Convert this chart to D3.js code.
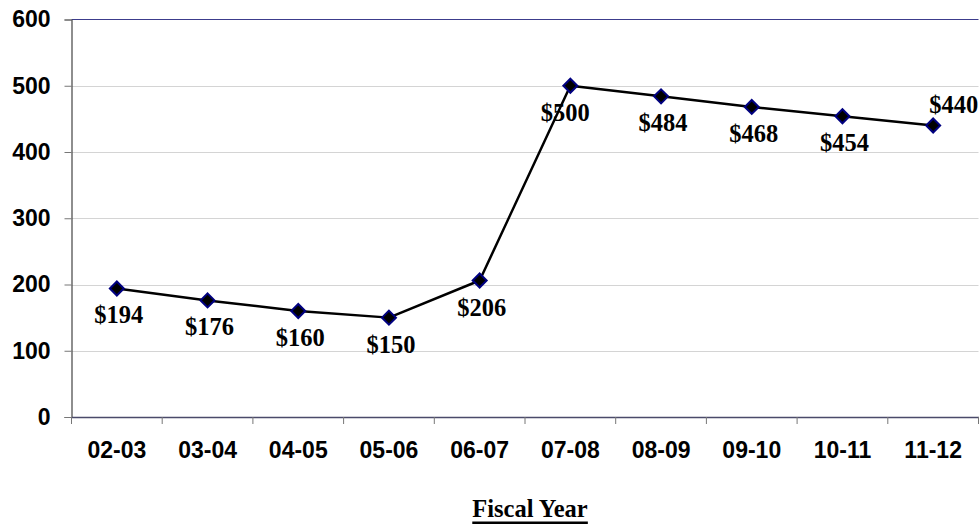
<!DOCTYPE html>
<html>
<head>
<meta charset="utf-8">
<script src="https://cdn.jsdelivr.net/npm/d3@7"></script>
<style>
  html, body { margin: 0; padding: 0; background: #fff; }
  svg { display: block; }
</style>
</head>
<body>
<svg id="chart" width="979" height="525"></svg>
<script>
// Fiscal years and cost per year (dollars)
const years = ["02-03", "03-04", "04-05", "05-06", "06-07", "07-08", "08-09", "09-10", "10-11", "11-12"];
const values = [194, 176, 160, 150, 206, 500, 484, 468, 454, 440];
const yTicks = [0, 100, 200, 300, 400, 500, 600];
const axisTitle = "Fiscal Year";

const svg = d3.select("#chart");
const plot = { left: 71.5, right: 978.5, top: 19.5, bottom: 417 };

const x = d3.scaleBand().domain(years).range([plot.left, plot.right]).paddingInner(0).paddingOuter(0);
const y = d3.scaleLinear().domain([0, 600]).range([plot.bottom, plot.top]);

const sans = "'Liberation Sans', Arial, sans-serif";
const serif = "'Liberation Serif', 'Times New Roman', serif";

// horizontal gridlines
svg.append("g")
  .selectAll("line")
  .data(yTicks.filter(d => d > 0 && d < 600))
  .join("line")
  .attr("x1", plot.left).attr("x2", plot.right)
  .attr("y1", d => Math.round(y(d)) + 0.5).attr("y2", d => Math.round(y(d)) + 0.5)
  .attr("stroke", "#d4d4d4").attr("stroke-width", 1);

// top border of the plot area
svg.append("line")
  .attr("x1", plot.left).attr("x2", plot.right)
  .attr("y1", y(600)).attr("y2", y(600))
  .attr("stroke", "#3c3c8c").attr("stroke-width", 1.2);

// y axis
const yAxis = d3.axisLeft(y).tickValues(yTicks).tickSize(7).tickPadding(14).tickFormat(d3.format("d"));
const gy = svg.append("g").attr("transform", `translate(${plot.left},0)`).call(yAxis);
gy.select(".domain").attr("stroke", "#444").attr("stroke-width", 1.2);
gy.selectAll(".tick line").attr("stroke", "#777");
gy.selectAll(".tick text")
  .attr("font-family", sans).attr("font-weight", "bold").attr("font-size", 23).attr("fill", "#000");

// x axis: ticks sit on the category boundaries
const xAxis = d3.axisBottom(x).tickSize(0).tickPadding(25);
const gx = svg.append("g").attr("transform", `translate(0,${plot.bottom})`).call(xAxis);
gx.select(".domain").attr("stroke", "#4a4a6a").attr("stroke-width", 1.4);
gx.selectAll(".tick text")
  .attr("font-family", sans).attr("font-weight", "bold").attr("font-size", 23).attr("fill", "#000");
gx.append("g")
  .selectAll("line")
  .data(years.concat(["end"]))
  .join("line")
  .attr("x1", (d, i) => plot.left + i * x.bandwidth()).attr("x2", (d, i) => plot.left + i * x.bandwidth())
  .attr("y1", 0).attr("y2", 7)
  .attr("stroke", "#777");

// axis title, underlined
const title = svg.append("text")
  .attr("x", 530).attr("y", 517)
  .attr("text-anchor", "middle")
  .attr("font-family", serif).attr("font-weight", "bold").attr("font-size", 24.5)
  .attr("fill", "#000")
  .text(axisTitle);
const tb = title.node().getBBox();
svg.append("rect")
  .attr("x", tb.x).attr("y", 521.5).attr("width", tb.width).attr("height", 2.5)
  .attr("fill", "#000");

// series line
const cx = d => x(d) + x.bandwidth() / 2;
const line = d3.line().x((d, i) => cx(years[i])).y(d => y(d));
svg.append("path")
  .datum(values)
  .attr("d", line)
  .attr("fill", "none").attr("stroke", "#000").attr("stroke-width", 2.5)
  .attr("stroke-linejoin", "round");

// diamond markers
const diamond = d3.symbol().type(d3.symbolDiamond2).size(125);
svg.append("g")
  .selectAll("path")
  .data(values)
  .join("path")
  .attr("d", diamond)
  .attr("transform", (d, i) => `translate(${cx(years[i])},${y(d)})`)
  .attr("fill", "#000").attr("stroke", "#000080").attr("stroke-width", 2);

// value labels: below each point, the last one sits above
const last = values.length - 1;
svg.append("g")
  .selectAll("text")
  .data(values)
  .join("text")
  .attr("x", (d, i) => i === last ? cx(years[i]) - 4 : cx(years[i]) + (i === 5 ? -5 : 2))
  .attr("y", (d, i) => i === last ? y(d) - 13 : y(d) + 35)
  .attr("text-anchor", (d, i) => i === last ? "start" : "middle")
  .attr("font-family", serif).attr("font-weight", "bold").attr("font-size", 24.5)
  .attr("fill", "#000")
  .text(d => "$" + d);
</script>
</body>
</html>
